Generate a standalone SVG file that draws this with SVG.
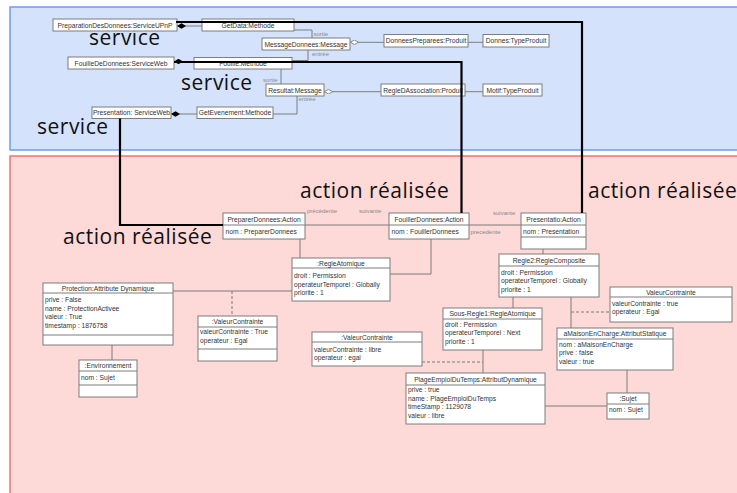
<svg xmlns="http://www.w3.org/2000/svg" width="737" height="493" viewBox="0 0 737 493">
<defs>
<style>
.box{fill:#fff;stroke:#7d7d7d;stroke-width:1}
.sep{stroke:#7d7d7d;stroke-width:1;fill:none}
.t{font-family:"Liberation Sans",Arial,sans-serif;font-size:6.7px;fill:#333}
.h{text-anchor:middle}
.lbl{font-family:"Liberation Sans",Arial,sans-serif;font-size:6px;fill:#8a8a8a}
.big{font-family:"Open Sans",sans-serif;font-size:21px;letter-spacing:0.5px;fill:#111}
.conn{stroke:#7d7d7d;stroke-width:1;fill:none}
.dash{stroke-dasharray:3,2}
.thick{stroke:#000;stroke-width:2.2;fill:none}
</style>
<marker id="dF" markerUnits="userSpaceOnUse" viewBox="0 0 10 6" refX="0" refY="3" markerWidth="9" markerHeight="5.4" orient="auto"><path d="M0,3 L5,0 L10,3 L5,6 Z" fill="#000"/></marker>
<marker id="dH" markerUnits="userSpaceOnUse" viewBox="0 0 10 6" refX="0" refY="3" markerWidth="9" markerHeight="5.4" orient="auto"><path d="M0.5,3 L5,0.5 L9.5,3 L5,5.5 Z" fill="#fff" stroke="#7d7d7d"/></marker>
</defs>
<rect width="737" height="493" fill="#fff"/>
<g id="zone-service">
<rect x="10" y="7" width="740" height="143" fill="#d4e3fb" stroke="#6f9cee" stroke-width="1.5"/>
<text class="big" x="89" y="45">service</text>
<text class="big" x="181" y="90">service</text>
<text class="big" x="37" y="134">service</text>
</g>
<g id="zone-action">
<rect x="10" y="156" width="740" height="350" fill="#fdd9d8" stroke="#f07472" stroke-width="1.5"/>
<text class="big" x="300" y="198">action réalisée</text>
<text class="big" x="588" y="198">action réalisée</text>
<text class="big" x="63" y="244">action réalisée</text>
</g>
<g id="connectors">
<path class="conn" d="M177,26 H202" marker-start="url(#dF)"/>
<path class="conn" d="M174,61.5 H194" marker-start="url(#dF)"/>
<path class="conn" d="M171,114 H197" marker-start="url(#dF)"/>
<path class="conn" d="M350,42.3 H384" marker-start="url(#dH)"/>
<path class="conn" d="M324,91.7 H381" marker-start="url(#dH)"/>
<path class="conn" d="M468,42.3 H483"/>
<path class="conn" d="M465,91.7 H483"/>
<path class="conn" d="M294,30 H312 V38"/>
<text class="lbl" x="313.5" y="35.5">sortie</text>
<path class="conn" d="M308,50 V60.5 H292"/>
<text class="lbl" x="312" y="55.5">entrée</text>
<path class="conn" d="M281,69 V84"/>
<text class="lbl" x="263" y="82">sortie</text>
<path class="conn" d="M273,114 H297 V96"/>
<text class="lbl" x="298.5" y="101">entrée</text>
<path class="conn" d="M305,225 H389"/>
<text class="lbl" x="307" y="213">précédente</text>
<text class="lbl" x="359" y="213">suivante</text>
<path class="conn" d="M469,225 H521"/>
<text class="lbl" x="493" y="215">suivante</text>
<text class="lbl" x="470.5" y="234">precedente</text>
<path class="conn" d="M300,239 V258"/>
<path class="conn" d="M431,239 V274 H390"/>
<path class="conn" d="M543,249 V254"/>
<path class="conn" d="M173,291 H292"/>
<path class="conn dash" d="M232,291 V316"/>
<path class="conn" d="M112,345 V360"/>
<path class="conn" d="M513,297 V308"/>
<path class="conn" d="M571,297 V328"/>
<path class="conn dash" d="M571,312 H610"/>
<path class="conn" d="M483,350 V373"/>
<path class="conn dash" d="M422,362 H483"/>
<path class="conn" d="M545,406 H607"/>
<path class="conn" d="M627,370 V393"/>
</g>
<g id="n-prep-service"><rect class="box" x="53" y="19" width="124" height="12"/><text class="t h" x="115" y="27.6">PreparationDesDonnees:ServiceUPnP</text></g>
<g id="n-getdata"><rect class="box" x="202" y="19" width="92" height="12"/><text class="t h" x="248" y="27.6">GetData:Methode</text></g>
<g id="n-msgdonnees"><rect class="box" x="262" y="38" width="88" height="12"/><text class="t h" x="306" y="46.6">MessageDonnees:Message</text></g>
<g id="n-donneesprep"><rect class="box" x="384" y="34.5" width="84" height="12.5"/><text class="t h" x="426" y="43.1">DonneesPreparees:Produit</text></g>
<g id="n-donnes"><rect class="box" x="483" y="34.5" width="66" height="12.5"/><text class="t h" x="516" y="43.1">Donnes:TypeProduit</text></g>
<g id="n-fouille-service"><rect class="box" x="68" y="57" width="106" height="12"/><text class="t h" x="121" y="65.6">FouilleDeDonnees:ServiceWeb</text></g>
<g id="n-fouille-methode"><rect class="box" x="194" y="57.5" width="98" height="11.5"/><text class="t h" x="243" y="65.8">Fouille:Methode</text></g>
<g id="n-resultat"><rect class="box" x="266" y="84" width="58" height="12"/><text class="t h" x="295" y="92.6">Resultat:Message</text></g>
<g id="n-regleassoc"><rect class="box" x="381" y="84" width="84" height="12"/><text class="t h" x="423" y="92.6">RegleDAssociation:Produit</text></g>
<g id="n-motif"><rect class="box" x="483" y="84" width="59" height="12"/><text class="t h" x="512.5" y="92.6">Motif:TypeProduit</text></g>
<g id="n-pres-service"><rect class="box" x="92" y="107" width="79" height="11.5"/><text class="t h" x="131.5" y="115.3">Presentation: ServiceWeb</text></g>
<g id="n-getevenement"><rect class="box" x="197" y="107" width="76" height="11.5"/><text class="t h" x="235" y="115.3">GetEvenement:Methode</text></g>
<g id="n-preparer-action"><rect class="box" x="223" y="213" width="82" height="26"/><path class="sep" d="M223,225 H305"/><text class="t h" x="264" y="221.6">PreparerDonnees:Action</text><text class="t" x="225.5" y="234.1">nom : PreparerDonnees</text></g>
<g id="n-fouiller-action"><rect class="box" x="389" y="213" width="80" height="26"/><path class="sep" d="M389,225 H469"/><text class="t h" x="429" y="221.6">FouillerDonnees:Action</text><text class="t" x="391.5" y="234.1">nom : FouillerDonnees</text></g>
<g id="n-presentatio-action"><rect class="box" x="521" y="213" width="65" height="36"/><path class="sep" d="M521,225 H586 M521,237 H586"/><text class="t h" x="553.5" y="221.6">Presentatio:Action</text><text class="t" x="523" y="234.1">nom : Presentation</text></g>
<g id="n-regleatomique"><rect class="box" x="292" y="258" width="98" height="43"/><path class="sep" d="M292,268 H390"/><text class="t h" x="341" y="265.6">:RegleAtomique</text><text class="t" x="294" y="278">droit : Permission</text><text class="t" x="294" y="286.6">operateurTemporel : Globally</text><text class="t" x="294" y="295.2">priorite : 1</text></g>
<g id="n-protection"><rect class="box" x="43" y="283" width="130" height="62"/><path class="sep" d="M43,293 H173 M43,335 H173"/><text class="t h" x="108" y="290.6">Protection:Attribute Dynamique</text><text class="t" x="45" y="302.3">prive : False</text><text class="t" x="45" y="310.8">name : ProtectionActivee</text><text class="t" x="45" y="319.3">valeur : True</text><text class="t" x="45" y="327.8">timestamp : 1876758</text></g>
<g id="n-environnement"><rect class="box" x="79" y="360" width="58" height="37"/><path class="sep" d="M79,371 H137 M79,385 H137"/><text class="t h" x="108" y="368.1">:Environnement</text><text class="t" x="81" y="380">nom : Sujet</text></g>
<g id="n-valeur-left"><rect class="box" x="198" y="316" width="79" height="45"/><path class="sep" d="M198,327 H277 M198,349 H277"/><text class="t h" x="237.5" y="324.1">:ValeurContrainte</text><text class="t" x="200" y="334.3">valeurContrainte : True</text><text class="t" x="200" y="342.8">operateur : Egal</text></g>
<g id="n-regle2"><rect class="box" x="499" y="254" width="100" height="43"/><path class="sep" d="M499,266 H599"/><text class="t h" x="549" y="262.6">Regle2:RegleComposite</text><text class="t" x="501" y="274.5">droit : Permission</text><text class="t" x="501" y="283">operateurTemporel : Globally</text><text class="t" x="501" y="291.5">priorite : 1</text></g>
<g id="n-valeur-right"><rect class="box" x="610" y="287" width="122" height="35"/><path class="sep" d="M610,297 H732"/><text class="t h" x="671" y="294.6">ValeurContrainte</text><text class="t" x="612" y="305.7">valeurContrainte : true</text><text class="t" x="612" y="314.3">operateur : Egal</text></g>
<g id="n-amaison"><rect class="box" x="557" y="328" width="116" height="42"/><path class="sep" d="M557,339 H673"/><text class="t h" x="615" y="336.3">aMaisonEnCharge:AttributStatique</text><text class="t" x="559" y="346.7">nom : aMaisonEnCharge</text><text class="t" x="559" y="355.2">prive : false</text><text class="t" x="559" y="363.7">valeur : true</text></g>
<g id="n-sousregle"><rect class="box" x="443" y="308" width="99" height="42"/><path class="sep" d="M443,319 H542"/><text class="t h" x="492.5" y="315.8">Sous-Regle1:RegleAtomique</text><text class="t" x="445" y="326.5">droit : Permission</text><text class="t" x="445" y="335">operateurTemporel : Next</text><text class="t" x="445" y="343.5">priorite : 1</text></g>
<g id="n-valeur-middle"><rect class="box" x="312" y="332" width="110" height="34"/><path class="sep" d="M312,342 H422"/><text class="t h" x="367" y="339.6">:ValeurContrainte</text><text class="t" x="314" y="351.5">valeurContrainte : libre</text><text class="t" x="314" y="360">operateur : egal</text></g>
<g id="n-plage"><rect class="box" x="406" y="373" width="139" height="51"/><path class="sep" d="M406,385 H545"/><text class="t h" x="475.5" y="381.6">PlageEmploiDuTemps:AttributDynamique</text><text class="t" x="408" y="392.3">prive : true</text><text class="t" x="408" y="400.8">name : PlageEmploiDuTemps</text><text class="t" x="408" y="409.3">timeStamp : 1129078</text><text class="t" x="408" y="417.8">valeur : libre</text></g>
<g id="n-sujet"><rect class="box" x="607" y="393" width="42" height="26"/><path class="sep" d="M607,404 H649"/><text class="t h" x="628" y="401.1">:Sujet</text><text class="t" x="609" y="412">nom : Sujet</text></g>
<g id="links">
<path class="thick" d="M176,22 H582 V213"/>
<path class="thick" d="M174,62 H461.5 V213"/>
<path class="thick" d="M120,118.5 V225 H223"/>
</g>
</svg>
